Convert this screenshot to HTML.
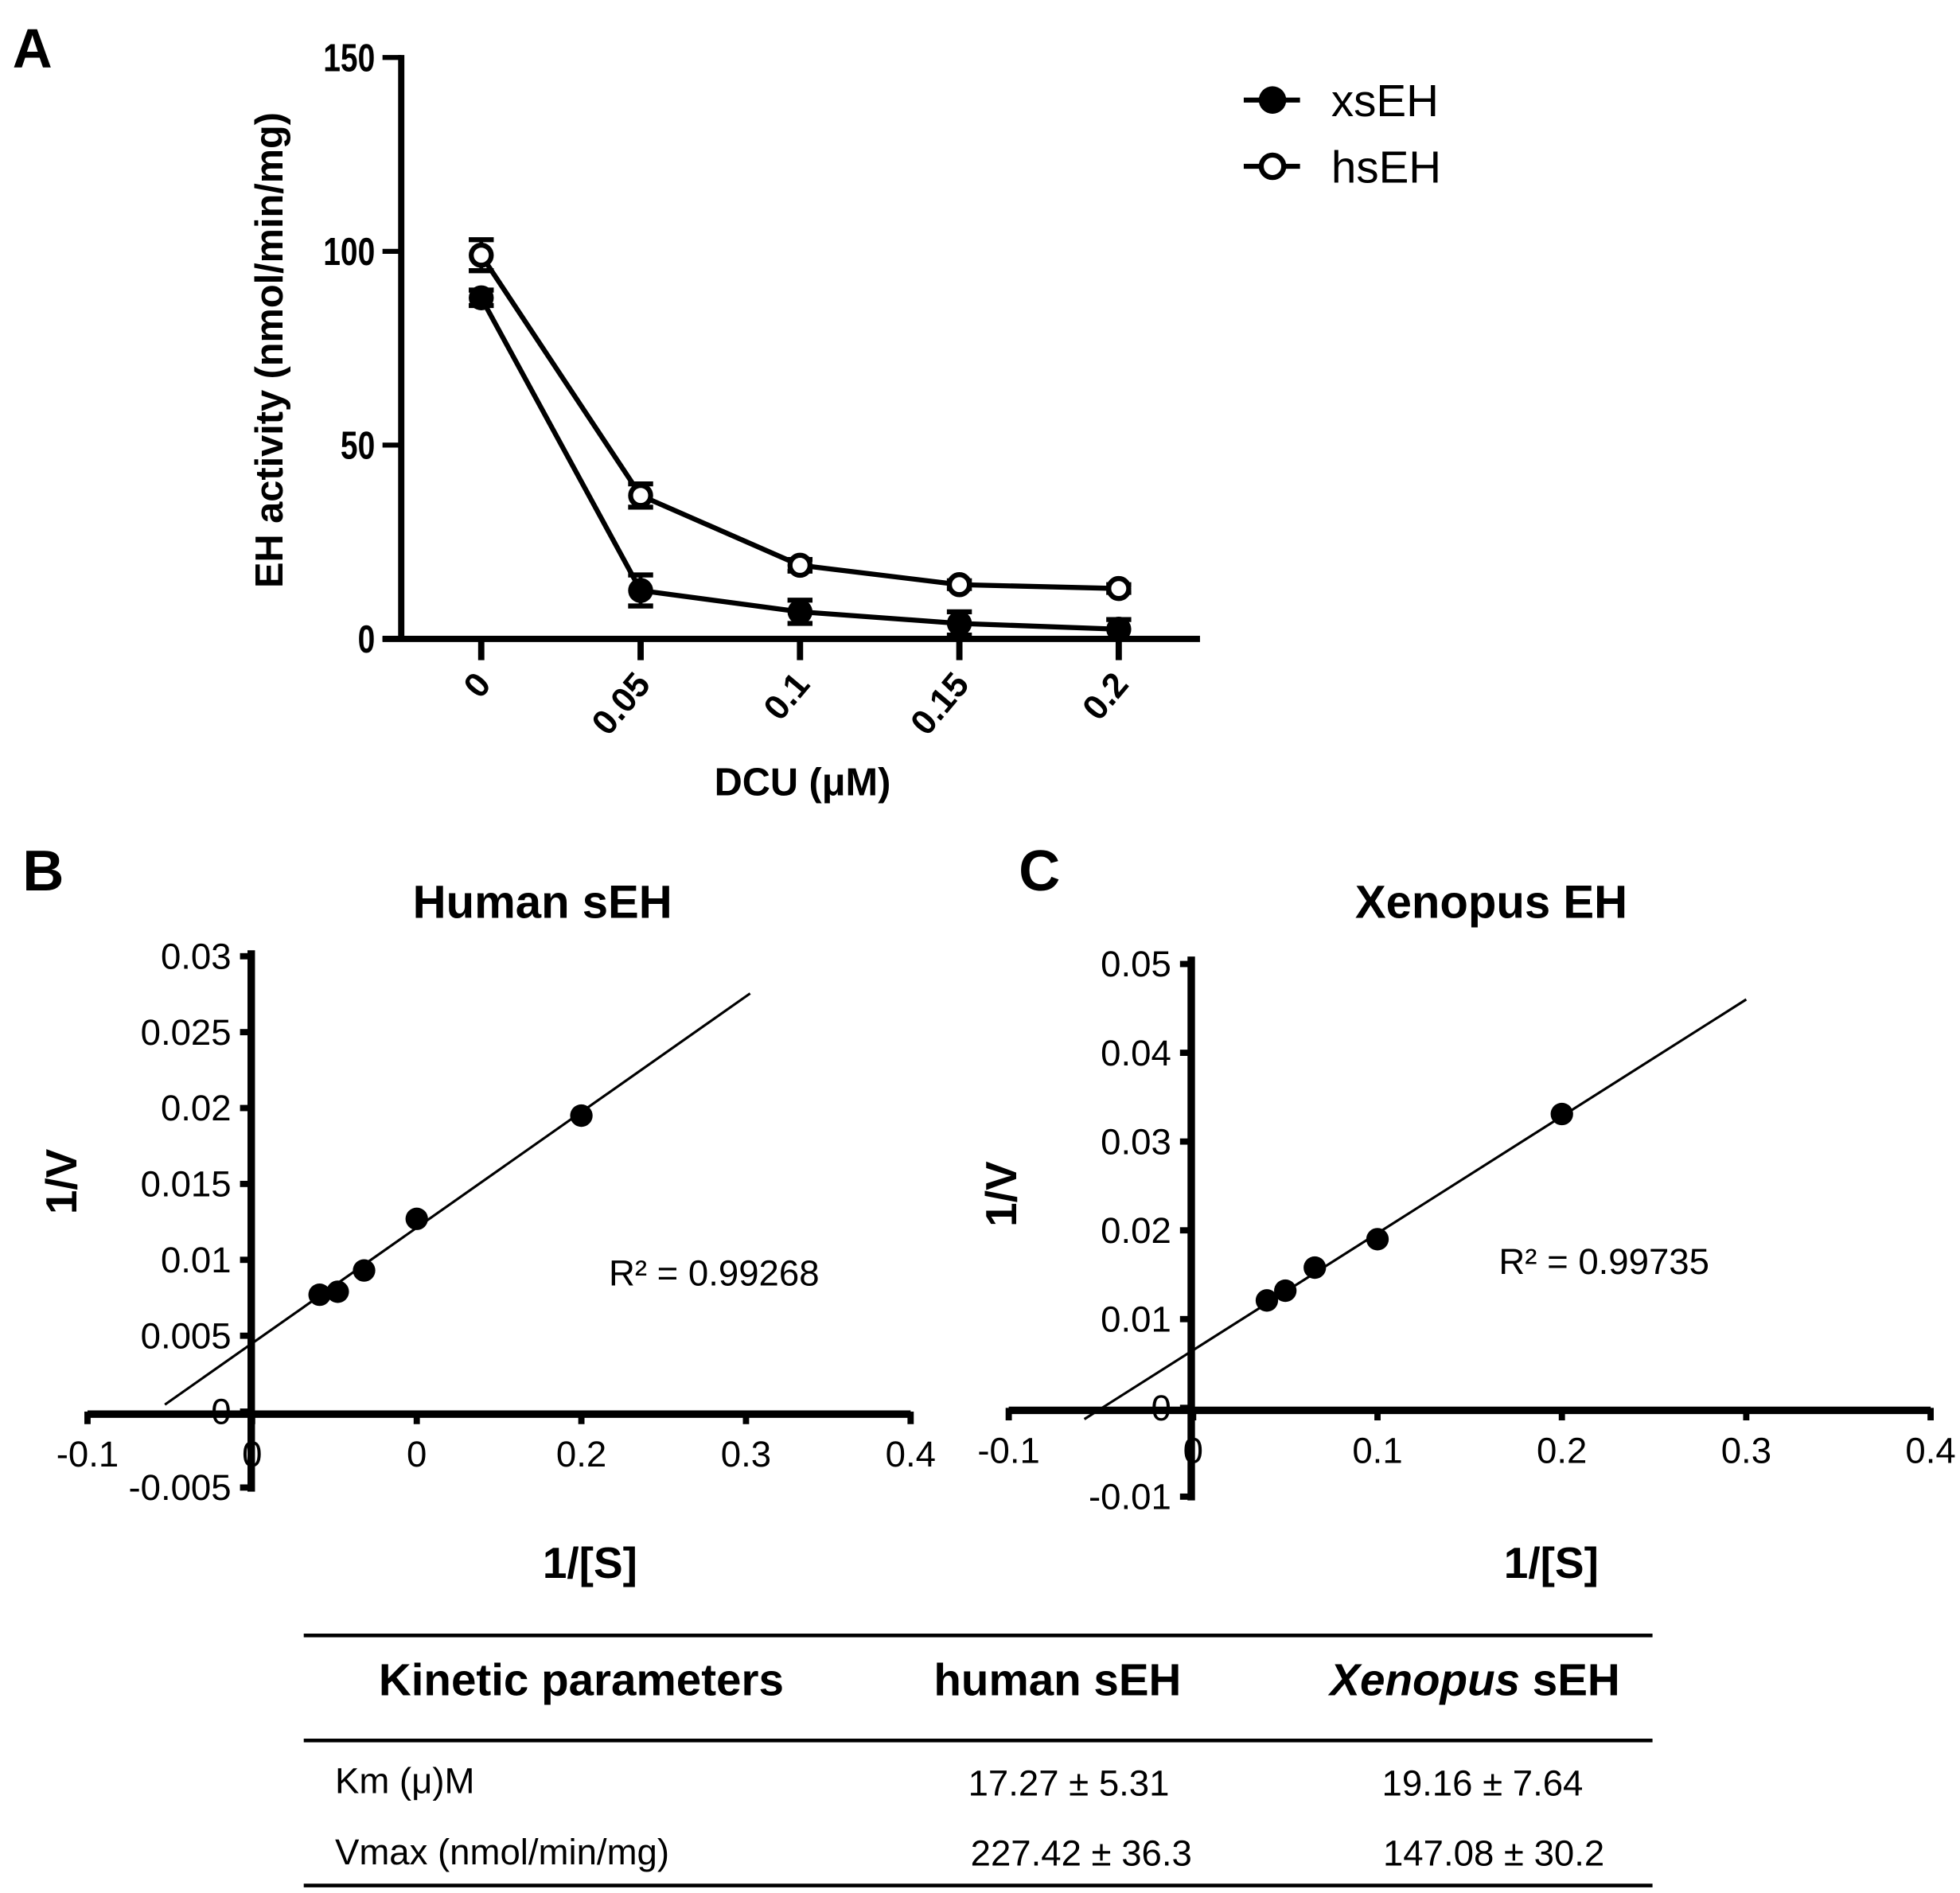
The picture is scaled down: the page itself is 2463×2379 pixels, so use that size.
<!DOCTYPE html>
<html><head><meta charset="utf-8"><style>
html,body{margin:0;padding:0;background:#fff;}
svg{display:block;}
text{font-family:"Liberation Sans",sans-serif;fill:#000;}
</style></head><body>
<svg id="fig" width="2463" height="2379" viewBox="0 0 1568 1514" preserveAspectRatio="none" xmlns="http://www.w3.org/2000/svg"></svg>
<script>
// Panel A data
const doseCats = [0, 0.05, 0.1, 0.15, 0.2];
const doseLabels = ["0", "0.05", "0.1", "0.15", "0.2"];
const xsEH = [88, 12.5, 7, 4, 2.5];
const xsErr = [2, 4, 3, 3, 2.5];
const hsEH = [99, 37, 19, 14, 13];
const hsErr = [4, 3, 1.5, 1, 1];
const aTicks = [0, 50, 100, 150];
// Panel B data
const bX = [0.041, 0.052, 0.068, 0.1, 0.2];
const bY = [0.0077, 0.0079, 0.0093, 0.0127, 0.0195];
const bFit = [0.0045, 0.0762];
const bFitRange = [-0.053, 0.3025];
const bXTicks = [-0.1, 0, 0.1, 0.2, 0.3, 0.4];
const bXLabels = ["-0.1", "0", "0", "0.2", "0.3", "0.4"];
const bYTicks = [-0.005, 0, 0.005, 0.01, 0.015, 0.02, 0.025, 0.03];
const bYLabels = ["-0.005", "0", "0.005", "0.01", "0.015", "0.02", "0.025", "0.03"];
// Panel C data
const cX = [0.04, 0.05, 0.066, 0.1, 0.2];
const cY = [0.0121, 0.0132, 0.0158, 0.019, 0.0331];
const cFit = [0.0065, 0.1317];
const cFitRange = [-0.059, 0.3];
const cXTicks = [-0.1, 0, 0.1, 0.2, 0.3, 0.4];
const cXLabels = ["-0.1", "0", "0.1", "0.2", "0.3", "0.4"];
const cYTicks = [-0.01, 0, 0.01, 0.02, 0.03, 0.04, 0.05];
const cYLabels = ["-0.01", "0", "0.01", "0.02", "0.03", "0.04", "0.05"];

const svg = document.getElementById('fig');
const NS = 'http://www.w3.org/2000/svg';
function mk(tag, attrs, name, txt) {
  const e = document.createElementNS(NS, tag);
  for (const k in attrs) e.setAttribute(k, attrs[k]);
  
  
  if (txt !== undefined) e.textContent = txt;
  svg.appendChild(e);
  return e;
}
function line(x1,y1,x2,y2,w,name){return mk('line',{x1,y1,x2,y2,stroke:'#000','stroke-width':w},name);}

// ---------- Panel A ----------
const ax = v => 385 + (v / 0.05) * 127.5;
const ay = v => 511 - v * 3.1;
mk('text',{x:10,y:54,'font-size':44,'font-weight':'bold'},'panel-a-label','A');
line(321,44,321,513,5,'a-y-axis');
line(306,511,960,511,5,'a-x-axis');
aTicks.forEach(t=>{
  line(306,ay(t),321,ay(t),4,'a-y-tick');
  mk('text',{x:0,y:0,'font-size':31,'font-weight':'bold','text-anchor':'end',transform:`translate(300,${ay(t)+11}) scale(0.8,1)`},'a-y-tick-label',String(t));
});
doseCats.forEach((c,i)=>{
  line(ax(c),511,ax(c),528,5,'a-x-tick');
  mk('text',{x:0,y:0,'font-size':28,'font-weight':'bold','text-anchor':'end',transform:`translate(${ax(c)+9},${548}) rotate(-50)`},'a-x-tick-label',doseLabels[i]);
});
mk('text',{x:0,y:0,'font-size':31,'font-weight':'bold','text-anchor':'middle',transform:'translate(226,280) rotate(-90)'},'a-y-axis-title','EH activity (nmol/min/mg)');
mk('text',{x:642,y:636,'font-size':31,'font-weight':'bold','text-anchor':'middle'},'a-x-axis-title','DCU (μM)');
function series(vals, errs, open, name){
  mk('polyline',{points:doseCats.map((c,i)=>ax(c)+','+ay(vals[i])).join(' '),fill:'none',stroke:'#000','stroke-width':4},name+'-line');
  doseCats.forEach((c,i)=>{
    const x=ax(c), y1=ay(vals[i]+errs[i]), y2=ay(vals[i]-errs[i]);
    line(x,y1,x,y2,3,name+'-error-bar');
    line(x-10,y1,x+10,y1,4,name+'-error-cap');
    line(x-10,y2,x+10,y2,4,name+'-error-cap');
    mk('circle',{cx:x,cy:ay(vals[i]),r:open?8:10,fill:open?'#fff':'#000',stroke:'#000','stroke-width':open?4:0},name+'-point');
  });
}
series(xsEH,xsErr,false,'xseh');
series(hsEH,hsErr,true,'hseh');
line(995,80,1040,80,4,'legend-xseh-line');
mk('circle',{cx:1018,cy:80,r:11,fill:'#000'},'legend-xseh-marker');
mk('text',{x:1065,y:93,'font-size':36},'legend-xseh-label','xsEH');
line(995,133,1040,133,4,'legend-hseh-line');
mk('circle',{cx:1018,cy:133,r:9,fill:'#fff',stroke:'#000','stroke-width':4},'legend-hseh-marker');
mk('text',{x:1065,y:146,'font-size':36},'legend-hseh-label','hsEH');

// ---------- Scatter panels ----------
function scatter(p){
  const X=v=>p.x0+(v-p.xmin)*p.xs, Y=v=>p.y0-v*p.ys;
  mk('text',{x:p.lx,y:712,'font-size':46,'font-weight':'bold'},p.n+'-panel-label',p.letter);
  mk('text',{x:p.tx,y:734,'font-size':37,'font-weight':'bold','text-anchor':'middle'},p.n+'-title',p.title);
  line(p.yax,p.ytop,p.yax,p.ybot,6,p.n+'-y-axis');
  line(X(p.xt[0]),p.y0+2,X(p.xt[p.xt.length-1]),p.y0+2,6,p.n+'-x-axis');
  p.yt.forEach((t,i)=>{
    line(p.yax-9,Y(t),p.yax,Y(t),5,p.n+'-y-tick');
    mk('text',{x:p.yax-16,y:Y(t)+10,'font-size':29,'text-anchor':'end'},p.n+'-y-tick-label',p.yl[i]);
  });
  p.xt.forEach((t,i)=>{
    line(X(t),p.y0,X(t),p.y0+10,5,p.n+'-x-tick');
    mk('text',{x:X(t),y:p.y0+44,'font-size':29,'text-anchor':'middle'},p.n+'-x-tick-label',p.xl[i]);
  });
  const f=v=>p.fit[0]+p.fit[1]*v;
  line(X(p.fr[0]),Y(f(p.fr[0])),X(p.fr[1]),Y(f(p.fr[1])),2,p.n+'-fit-line');
  p.px.forEach((v,i)=>mk('circle',{cx:X(v),cy:Y(p.py[i]),r:9,fill:'#000'},p.n+'-point'));
  mk('text',{x:p.rx,y:p.ry,'font-size':29},p.n+'-r-squared',p.r2);
  mk('text',{x:0,y:0,'font-size':35,'font-weight':'bold','text-anchor':'middle',transform:`translate(${p.yax-140},${p.ymid}) rotate(-90)`},p.n+'-y-axis-title','1/V');
  mk('text',{x:p.xtx,y:1262,'font-size':35,'font-weight':'bold','text-anchor':'middle'},p.n+'-x-axis-title','1/[S]');
}
scatter({n:'b',letter:'B',lx:18,title:'Human sEH',tx:434,x0:70,xmin:-0.1,xs:1317,y0:1129,ys:12140,yax:201,ytop:760,ybot:1193,
  xt:bXTicks,xl:bXLabels,yt:bYTicks,yl:bYLabels,fit:bFit,fr:bFitRange,px:bX,py:bY,rx:487,ry:1028,r2:'R² = 0.99268',ymid:945,xtx:472});
scatter({n:'c',letter:'C',lx:815,title:'Xenopus EH',tx:1193,x0:807,xmin:-0.1,xs:1475,y0:1126,ys:7100,yax:953,ytop:765,ybot:1200,
  xt:cXTicks,xl:cXLabels,yt:cYTicks,yl:cYLabels,fit:cFit,fr:cFitRange,px:cX,py:cY,rx:1199,ry:1019,r2:'R² = 0.99735',ymid:955,xtx:1241});

// ---------- Table ----------
line(243,1308,1322,1308,3,'table-top-rule');
line(243,1392,1322,1392,3,'table-header-rule');
line(243,1508,1322,1508,3,'table-bottom-rule');
mk('text',{x:465,y:1356,'font-size':36,'font-weight':'bold','text-anchor':'middle'},'table-header-parameters','Kinetic parameters');
mk('text',{x:846,y:1356,'font-size':36,'font-weight':'bold','text-anchor':'middle'},'table-header-human','human sEH');
const h=mk('text',{x:1180,y:1356,'font-size':36,'font-weight':'bold','text-anchor':'middle'},'table-header-xenopus','');
h.innerHTML='<tspan font-style="italic">Xenopus</tspan> sEH';
mk('text',{x:268,y:1434,'font-size':29},'table-row-km-label','Km (μ)M');
mk('text',{x:855,y:1436,'font-size':29,'text-anchor':'middle'},'table-km-human','17.27 ± 5.31');
mk('text',{x:1186,y:1436,'font-size':29,'text-anchor':'middle'},'table-km-xenopus','19.16 ± 7.64');
mk('text',{x:268,y:1491,'font-size':29},'table-row-vmax-label','Vmax (nmol/min/mg)');
mk('text',{x:865,y:1492,'font-size':29,'text-anchor':'middle'},'table-vmax-human','227.42 ± 36.3');
mk('text',{x:1195,y:1492,'font-size':29,'text-anchor':'middle'},'table-vmax-xenopus','147.08 ± 30.2');
</script>
</body></html>
